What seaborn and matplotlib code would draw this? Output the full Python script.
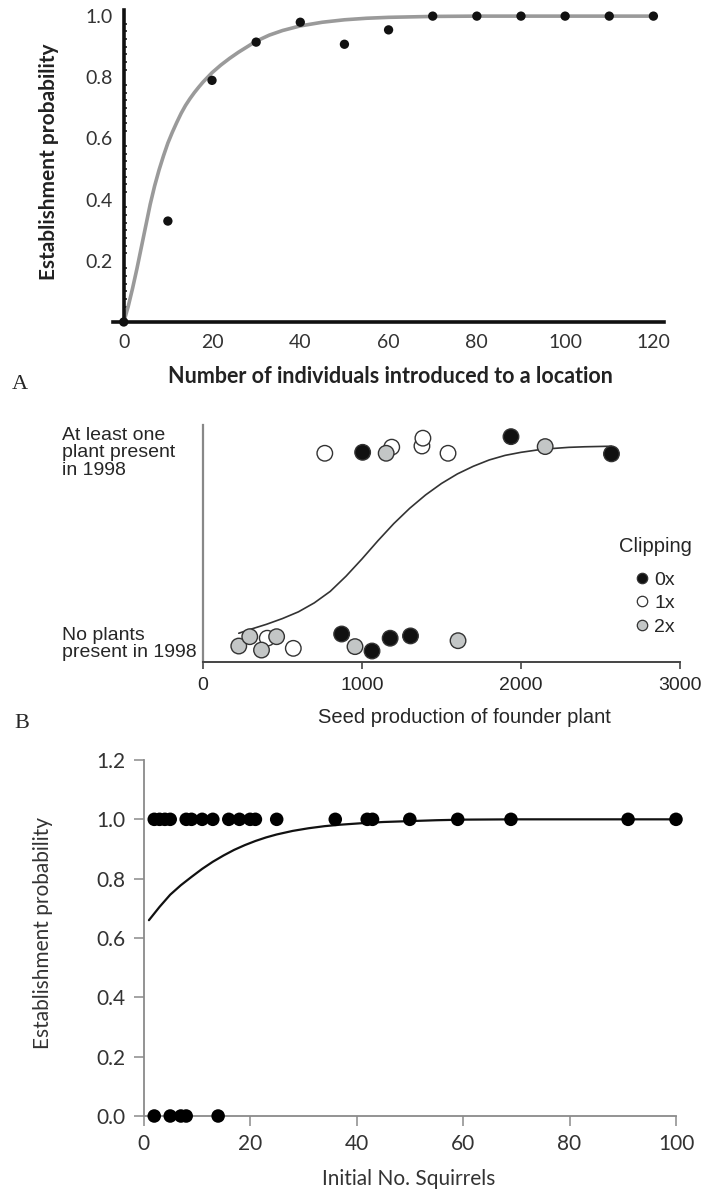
import numpy as np
import pandas as pd
import matplotlib
matplotlib.use("Agg")
import matplotlib.pyplot as plt
import seaborn as sns
from matplotlib.ticker import MultipleLocator
from matplotlib.transforms import blended_transform_factory
from matplotlib.lines import Line2D

# ---------------- Panel A data ----------------
a_x = [0, 10, 20, 30, 40, 50, 60, 70, 80, 90, 100, 110, 120]
a_y = [0.0, 0.33, 0.79, 0.915, 0.98, 0.908, 0.955, 1.0, 1.0, 1.0, 1.0, 1.0, 1.0]
a_fit_x = [0, 1, 2, 3, 4, 5, 6, 7, 8, 9, 10, 11, 12, 13, 14, 15, 16, 17, 18, 19, 20,
           22, 24, 26, 28, 30, 33, 36, 40, 45, 50, 55, 60, 70, 80, 100, 120]
a_fit_y = [0.0, 0.05, 0.11, 0.175, 0.245, 0.315, 0.385, 0.445, 0.497, 0.543, 0.585, 0.62,
           0.652, 0.682, 0.708, 0.73, 0.75, 0.768, 0.785, 0.80, 0.815, 0.84, 0.862, 0.882,
           0.90, 0.918, 0.938, 0.953, 0.968, 0.98, 0.988, 0.993, 0.996, 0.999, 1.0, 1.0, 1.0]
a_xticks = [0, 20, 40, 60, 80, 100, 120]
a_yticks = [0.2, 0.4, 0.6, 0.8, 1.0]

# ---------------- Panel B data ----------------
b_clip = (["1x"] * 7) + (["2x"] * 8) + (["0x"] * 7)
b_seed = [766, 1187, 1377, 1383, 1541, 404, 568,
          1152, 2152, 225, 294, 368, 463, 956, 1604,
          1004, 1937, 2569, 872, 1063, 1177, 1305]
b_pos = [0.993, 1.025, 1.031, 1.072, 0.993, 0.025, -0.028,
         0.993, 1.028, -0.016, 0.033, -0.037, 0.033, -0.019, 0.012,
         0.998, 1.080, 0.990, 0.047, -0.042, 0.025, 0.037]
b_fit_x = [225, 300, 400, 500, 600, 700, 800, 900, 1000, 1100, 1200, 1300, 1400, 1500,
           1600, 1700, 1800, 1900, 2000, 2100, 2200, 2300, 2400, 2569]
b_fit_y = [0.051, 0.072, 0.098, 0.128, 0.163, 0.21, 0.27, 0.35, 0.44, 0.535, 0.625, 0.705,
           0.775, 0.835, 0.885, 0.925, 0.958, 0.982, 0.998, 1.01, 1.018, 1.024, 1.027, 1.03]
b_xticks = [0, 1000, 2000, 3000]
b_levels = ["No plants\npresent in 1998", "At least one\nplant present\nin 1998"]
b_order = ["0x", "1x", "2x"]
b_colors = {"0x": "#111111", "1x": "#ffffff", "2x": "#c3c6c6"}

# ---------------- Panel C data ----------------
c_top_x = [2, 3, 4, 5, 8, 9, 11, 13, 16, 18, 20, 21, 25, 36, 42, 43, 50, 59, 69, 91, 100]
c_bot_x = [2, 5, 7, 8, 14]
c_fit_x = [1, 3, 5, 7, 9, 11, 13, 15, 17, 19, 21, 23, 25, 28, 31, 34, 37, 41, 45, 50, 55,
           60, 70, 100]
c_fit_y = [0.66, 0.705, 0.746, 0.778, 0.806, 0.833, 0.857, 0.878, 0.897, 0.913, 0.927, 0.939,
           0.949, 0.961, 0.97, 0.977, 0.982, 0.987, 0.991, 0.994, 0.997, 0.999, 1.0, 1.0]
c_xticks = [0, 20, 40, 60, 80, 100]
c_yticks = [0.0, 0.2, 0.4, 0.6, 0.8, 1.0, 1.2]

sns.set_style("white")
plt.rcParams["font.family"] = ["Lato", "DejaVu Sans"]

W, H = 704, 1189
fig = plt.figure(figsize=(W / 100, H / 100), dpi=100)


def box(left, top, right, bottom):
    return [left / W, 1 - bottom / H, (right - left) / W, (bottom - top) / H]


# ================= Panel A =================
axA = fig.add_axes(box(112.7, 10, 664, 322))
dfA = pd.DataFrame({"x": a_x, "y": a_y})
dfAf = pd.DataFrame({"x": a_fit_x, "y": a_fit_y})
sns.lineplot(data=dfAf, x="x", y="y", ax=axA, color="#9a9a9a", linewidth=2.6, zorder=2)
sns.scatterplot(data=dfA, x="x", y="y", ax=axA, color="#111111", s=45, edgecolor="none",
                zorder=3, clip_on=False)
axA.set_xlim(-2.5, 122.4)
axA.set_ylim(0, 1.02)
axA.spines["left"].set_position(("data", 0))
for s in ["top", "right"]:
    axA.spines[s].set_visible(False)
for s in ["left", "bottom"]:
    axA.spines[s].set_linewidth(2.6)
    axA.spines[s].set_color("#111111")
axA.set_xticks(a_xticks)
axA.set_yticks(a_yticks)
axA.set_yticklabels([f"{v:.1f}" for v in a_yticks])
axA.yaxis.set_minor_locator(MultipleLocator(0.025))
axA.tick_params(axis="both", which="major", direction="in", length=3, width=1.5,
                color="#222222", labelsize=14, labelcolor="#333333")
axA.tick_params(axis="x", pad=9)
axA.tick_params(axis="y", pad=8)
axA.tick_params(axis="y", which="minor", direction="in", length=2, width=1.2, color="#222222", left=True)
axA.set_xlabel("Number of individuals introduced to a location", fontsize=15.5,
               fontweight="bold", color="#222222")
axA.set_ylabel("Establishment probability", fontsize=15, fontweight="bold", color="#222222")
axA.xaxis.set_label_coords(0.503, -0.142)
axA.yaxis.set_label_coords(-0.098, 0.515)
fig.text(20 / W, 1 - 385 / H, "A", family="Liberation Serif", fontsize=16, ha="center", va="center")

# ================= Panel B =================
axB = fig.add_axes(box(203, 425, 680, 662))
dfB = pd.DataFrame({"seed": b_seed, "pos": b_pos, "clip": b_clip})
dfBf = pd.DataFrame({"x": b_fit_x, "y": b_fit_y})
sns.lineplot(data=dfBf, x="x", y="y", ax=axB, color="#333333", linewidth=1.2, zorder=2)
sns.scatterplot(data=dfB, x="seed", y="pos", hue="clip", hue_order=b_order, palette=b_colors,
                ax=axB, s=125, edgecolor="#333333", linewidth=1.0, legend=False, zorder=3,
                clip_on=False)
axB.set_xlim(0, 3000)
axB.set_ylim(-0.0995, 1.141)
for s in ["top", "right"]:
    axB.spines[s].set_visible(False)
axB.spines["left"].set_color("#888888")
axB.spines["left"].set_linewidth(1.6)
axB.spines["bottom"].set_color("#444444")
axB.spines["bottom"].set_linewidth(1.4)
axB.set_xticks(b_xticks)
axB.set_xticklabels([str(v) for v in b_xticks], family="Liberation Sans")
axB.set_yticks([])
axB.tick_params(axis="x", direction="out", length=5, width=1.2, color="#444444",
                labelsize=14, pad=6, bottom=True)
axB.set_xlabel("Seed production of founder plant", family="Liberation Sans", fontsize=14.5)
axB.set_ylabel("")
axB.xaxis.set_label_coords(0.549, -0.195)
trB = blended_transform_factory(fig.transFigure, axB.transData)
for lv, txt in enumerate(b_levels):
    axB.text(62 / W, lv - 0.005, txt, transform=trB, ha="left", va="center",
             family="Liberation Sans", fontsize=14, linespacing=1.05)
handles = [Line2D([], [], marker="o", linestyle="none", markersize=7.5, markerfacecolor=b_colors[k],
                  markeredgecolor="#333333", markeredgewidth=0.9, label=k) for k in b_order]
legB = axB.legend(handles=handles, title="Clipping", loc="upper center",
                  bbox_to_anchor=(655 / W, 1 - 527 / H), bbox_transform=fig.transFigure,
                  frameon=False, prop={"family": "Liberation Sans", "size": 14},
                  handlelength=0.7, handletextpad=0.3, labelspacing=0.3, borderpad=0)
legB.get_title().set_fontfamily("Liberation Sans")
legB.get_title().set_fontsize(14.5)
legB._legend_box.sep = 11
fig.text(22 / W, 1 - 723 / H, "B", family="Liberation Serif", fontsize=16, ha="center", va="center")

# ================= Panel C =================
axC = fig.add_axes(box(143.6, 760, 676, 1116))
dfC = pd.DataFrame({"x": c_top_x + c_bot_x,
                    "y": [1.0] * len(c_top_x) + [0.0] * len(c_bot_x)})
dfCf = pd.DataFrame({"x": c_fit_x, "y": c_fit_y})
sns.lineplot(data=dfCf, x="x", y="y", ax=axC, color="#111111", linewidth=1.6, zorder=2)
sns.scatterplot(data=dfC, x="x", y="y", ax=axC, color="#000000", s=95, edgecolor="none",
                zorder=3, clip_on=False)
axC.set_xlim(0, 100)
axC.set_ylim(0, 1.2)
for s in ["top", "right"]:
    axC.spines[s].set_visible(False)
for s in ["left", "bottom"]:
    axC.spines[s].set_color("#8a8a8a")
    axC.spines[s].set_linewidth(1.3)
axC.set_xticks(c_xticks)
axC.set_yticks(c_yticks)
axC.set_yticklabels([f"{v:.1f}" for v in c_yticks])
axC.tick_params(axis="both", direction="out", length=7, width=1.1, color="#8a8a8a",
                labelsize=15, labelcolor="#333333", left=True, bottom=True)
axC.tick_params(axis="x", pad=6)
axC.tick_params(axis="y", pad=6)
axC.set_xlabel("Initial No. Squirrels", fontsize=15, color="#333333")
axC.set_ylabel("Establishment probability", fontsize=15, color="#333333")
axC.xaxis.set_label_coords(0.4985, -0.148)
axC.yaxis.set_label_coords(-0.17, 0.514)

fig.savefig("out.png", dpi=100)
